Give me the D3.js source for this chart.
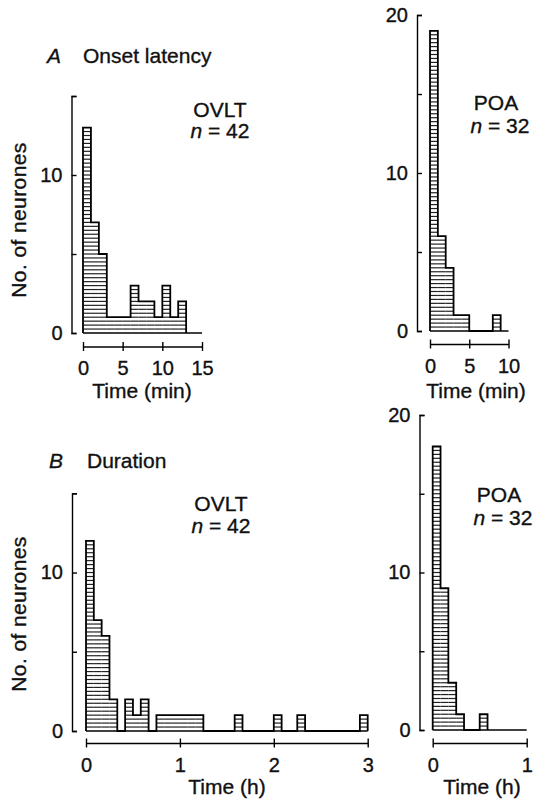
<!DOCTYPE html>
<html>
<head>
<meta charset="utf-8">
<script src="https://cdn.jsdelivr.net/npm/d3@7"></script>
<style>
  body { margin: 0; background: #fff; }
  svg { display: block; font-family: "Liberation Sans", Arial, Helvetica, sans-serif; }
  text { fill: #111; stroke: #111; stroke-width: 0.35px; }
</style>
</head>
<body>
<svg width="543" height="801"></svg>
<script>
// bin widths
const onsetBin = 1;          // min
const durationBin = 5 / 60;  // h (5 min bins)

// counts per bin, starting at 0
const ovltOnset = [13, 7, 5, 1, 1, 1, 3, 2, 2, 1, 3, 1, 2];
const poaOnset = [19, 6, 4, 1, 1, 0, 0, 0, 1];
const ovltDuration = [12, 7, 6, 2, 0, 2, 1, 2, 0, 1, 1, 1, 1, 1, 1, 0, 0, 0, 0, 1,
                      0, 0, 0, 0, 1, 0, 0, 1, 0, 0, 0, 0, 0, 0, 0, 1];
const poaDuration = [18, 9, 3, 1, 0, 0, 1];

// tick values
const onsetTicksOvlt = [0, 5, 10, 15];
const onsetTicksPoa = [0, 5, 10];
const durationTicksOvlt = [0, 1, 2, 3];
const durationTicksPoa = [0, 1];
const countTicksOvlt = [0, 5, 10, 15];
const countTicksPoa = [0, 5, 10, 15, 20];

// labels
const panelLetters = ["A", "B"];
const panelTitles = ["Onset latency", "Duration"];
const regionNames = ["OVLT", "POA"];
const regionN = [42, 32];
const xTitles = ["Time (min)", "Time (h)"];
const yTitle = "No. of neurones";

const hatchPerUnit = 4;

const svg = d3.select("svg");

// panel headers
[[47, 83, 63], [49, 87, 468]].forEach((p, i) => {
  svg.append("text").attr("x", p[0]).attr("y", p[2])
    .attr("font-size", 21).attr("font-style", "italic").text(panelLetters[i]);
  svg.append("text").attr("x", p[1]).attr("y", p[2])
    .attr("font-size", 21).text(panelTitles[i]);
});

// y titles
[220, 614].forEach(cy => {
  svg.append("text")
    .attr("transform", `translate(26,${cy}) rotate(-90)`)
    .attr("text-anchor", "middle")
    .attr("font-size", 21)
    .attr("letter-spacing", 0.4)
    .text(yTitle);
});

function drawPanel(o) {
  const x = d3.scaleLinear().domain([0, o.xMax]).range(o.xRange);
  const y = d3.scaleLinear().domain([0, o.yMax]).range(o.yRange);
  const g = svg.append("g");

  const bins = o.counts.map((c, i) => ({x0: i * o.bin, x1: (i + 1) * o.bin, c}));

  // hatching
  const hatch = [];
  bins.forEach(b => {
    if (b.c > 0) d3.range(1, b.c * hatchPerUnit).forEach(k => hatch.push({x0: b.x0, x1: b.x1, v: k / hatchPerUnit}));
  });
  g.selectAll(".hatch")
    .data(hatch)
    .enter()
    .append("line")
    .attr("x1", d => x(d.x0))
    .attr("x2", d => x(d.x1))
    .attr("y1", d => y(d.v))
    .attr("y2", d => y(d.v))
    .attr("stroke", "#222")
    .attr("stroke-width", 1.2);

  // baseline
  g.append("line")
    .attr("x1", x(0)).attr("x2", x(o.xMax))
    .attr("y1", y(0)).attr("y2", y(0))
    .attr("stroke", "#000").attr("stroke-width", 1.6);

  // step outline
  const pts = [[bins[0].x0, 0]];
  bins.forEach(b => { pts.push([b.x0, b.c]); pts.push([b.x1, b.c]); });
  pts.push([bins[bins.length - 1].x1, 0]);
  g.append("path")
    .attr("d", d3.line().x(d => x(d[0])).y(d => y(d[1]))(pts))
    .attr("fill", "none")
    .attr("stroke", "#000")
    .attr("stroke-width", 1.8)
    .attr("stroke-linejoin", "miter");

  // y axis (bracket, ticks inward)
  const yAxis = d3.axisLeft(y)
    .tickValues(o.yTicks)
    .tickSizeInner(-5)
    .tickSizeOuter(-5)
    .tickPadding(9)
    .tickFormat(d => d % 10 === 0 ? d : "");
  const ya = g.append("g")
    .attr("transform", `translate(${o.yAxisX},0)`)
    .call(yAxis);

  // x axis (crossing ticks)
  const xAxis = d3.axisBottom(x)
    .tickValues(o.xTicks)
    .tickSizeInner(4.5)
    .tickSizeOuter(0)
    .tickPadding(10)
    .tickFormat(d3.format("d"));
  const xa = g.append("g")
    .attr("transform", `translate(0,${o.xAxisY})`)
    .call(xAxis);
  xa.selectAll(".tick line").attr("y1", -4.5);

  [ya, xa].forEach(a => {
    a.attr("font-family", null).attr("font-size", null);
    a.selectAll("path, line").attr("stroke", "#000").attr("stroke-width", 1.4);
    a.selectAll("text").attr("font-size", 20).attr("fill", "#111");
  });

  // x title
  g.append("text")
    .attr("x", o.xTitleX).attr("y", o.xTitleY)
    .attr("text-anchor", "middle")
    .attr("font-size", 21)
    .text(o.xTitle);

  // region label
  g.append("text")
    .attr("x", o.labelX).attr("y", o.labelY)
    .attr("text-anchor", "middle")
    .attr("font-size", 21)
    .text(o.region);
  const nt = g.append("text")
    .attr("x", o.labelX + o.nShift).attr("y", o.labelY + o.nGap)
    .attr("text-anchor", "middle")
    .attr("font-size", 21);
  nt.append("tspan").attr("font-style", "italic").text("n");
  nt.append("tspan").text(" = " + o.n);
}

drawPanel({counts: ovltOnset, bin: onsetBin, xMax: 15, yMax: 15,
  xRange: [83, 202], yRange: [333, 96], yAxisX: 71.5, xAxisY: 346.5,
  xTicks: onsetTicksOvlt, yTicks: countTicksOvlt,
  xTitle: xTitles[0], xTitleX: 142, xTitleY: 398,
  region: regionNames[0], n: regionN[0], labelX: 220, labelY: 117, nShift: 0, nGap: 21});

drawPanel({counts: poaOnset, bin: onsetBin, xMax: 10, yMax: 20,
  xRange: [430, 508.5], yRange: [331, 15], yAxisX: 417, xAxisY: 344,
  xTicks: onsetTicksPoa, yTicks: countTicksPoa,
  xTitle: xTitles[0], xTitleX: 476, xTitleY: 398,
  region: regionNames[1], n: regionN[1], labelX: 496, labelY: 110, nShift: 4, nGap: 23});

drawPanel({counts: ovltDuration, bin: durationBin, xMax: 3, yMax: 15,
  xRange: [86, 367.7], yRange: [731, 493.3], yAxisX: 72, xAxisY: 743,
  xTicks: durationTicksOvlt, yTicks: countTicksOvlt,
  xTitle: xTitles[1], xTitleX: 227, xTitleY: 794,
  region: regionNames[0], n: regionN[0], labelX: 221, labelY: 511, nShift: 0, nGap: 22});

drawPanel({counts: poaDuration, bin: durationBin, xMax: 1, yMax: 20,
  xRange: [432.7, 526.7], yRange: [730, 415], yAxisX: 419.5, xAxisY: 743,
  xTicks: durationTicksPoa, yTicks: countTicksPoa,
  xTitle: xTitles[1], xTitleX: 482, xTitleY: 794,
  region: regionNames[1], n: regionN[1], labelX: 499, labelY: 502, nShift: 4, nGap: 23});
</script>
</body>
</html>
